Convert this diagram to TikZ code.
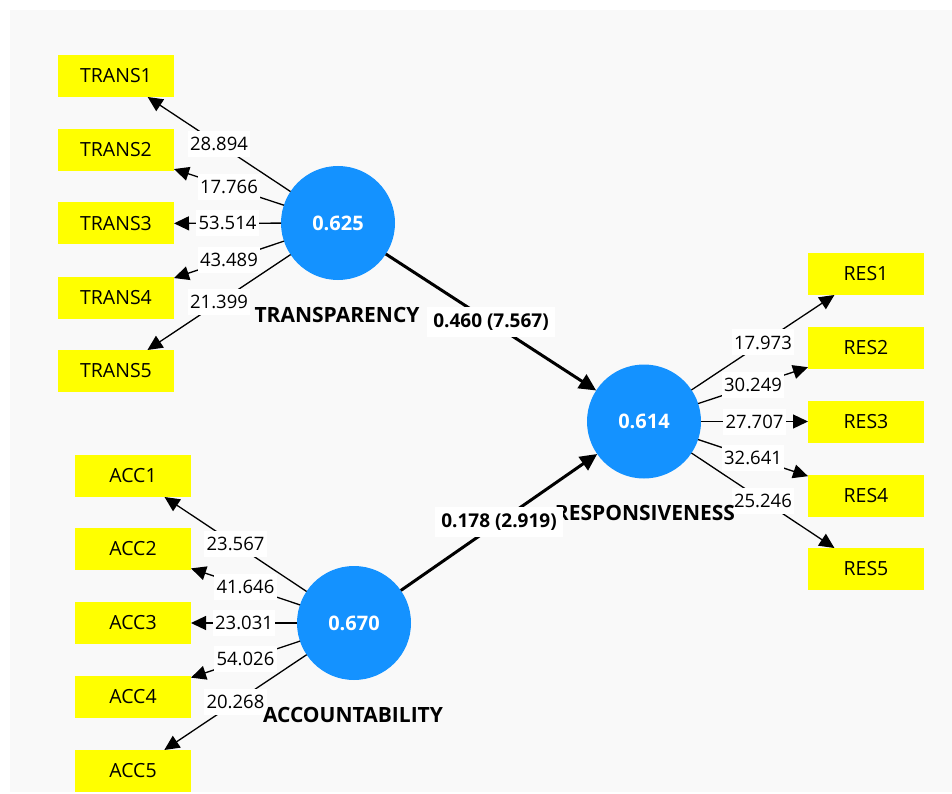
\documentclass[tikz,border=0pt]{standalone}
\usepackage{fontspec}
\setmainfont{Open Sans}
\usetikzlibrary{arrows.meta}
\definecolor{bgc}{RGB}{249,249,249}
\definecolor{lvblue}{RGB}{20,146,255}
\definecolor{indyellow}{RGB}{255,255,0}
\begin{document}
\begin{tikzpicture}[x=1pt,y=-1pt,
  ind/.style={fill=indyellow, minimum width=116pt, minimum height=42pt, inner sep=0pt, outer sep=0pt, font=\fontsize{19.5}{21}\selectfont},
  lv/.style={circle, fill=lvblue, minimum size=114pt, inner sep=0pt, outer sep=0pt, text=white, font=\bfseries\fontsize{20}{22}\selectfont},
  lvname/.style={inner sep=0pt, font=\bfseries\fontsize{21}{23}\selectfont},
  load/.style={line width=1.3pt, -{Triangle[length=15pt,width=14pt]}},
  struct/.style={line width=3pt, -{Triangle[length=17pt,width=16pt]}},
  lbl/.style={fill=white, inner xsep=2.5pt, inner ysep=0pt, minimum height=26pt, font=\fontsize{18.5}{20}\selectfont},
  plbl/.style={fill=white, inner xsep=6pt, inner ysep=0pt, minimum height=30pt, font=\bfseries\fontsize{19}{21}\selectfont}]
\useasboundingbox (0,0) rectangle (952,794);
\fill[white] (0,0) rectangle (952,794);
\fill[bgc] (10,10) rectangle (952,792);
% indicators
\foreach \i/\y in {1/76,2/150,3/223.5,4/297.5,5/371} \node[ind] (T\i) at (116,\y) {TRANS\i};
\foreach \i/\y in {1/476,2/549,3/623,4/697,5/771} \node[ind] (A\i) at (133,\y) {ACC\i};
\foreach \i/\y in {1/274,2/348,3/421.5,4/495.5,5/569} \node[ind] (R\i) at (866,\y) {RES\i};
% latent variables
\node[lv] (T) at (338,223) {0.625};
\node[lv] (A) at (354,623) {0.670};
\node[lv] (R) at (644,421.5) {0.614};
% loadings
\foreach \i in {1,...,5} {
  \draw[load] (T) -- coordinate (tl\i) (T\i);
  \draw[load] (A) -- coordinate (al\i) (A\i);
  \draw[load] (R) -- coordinate (rl\i) (R\i);
}
\foreach \i/\v in {1/28.894,2/17.766,3/53.514,4/43.489,5/21.399} \node[lbl] at (tl\i) {\v};
\foreach \i/\v in {1/23.567,2/41.646,3/23.031,4/54.026,5/20.268} \node[lbl] at (al\i) {\v};
\foreach \i/\v in {1/17.973,2/30.249,3/27.707,4/32.641,5/25.246} \node[lbl] at (rl\i) {\v};
% names
\node[lvname] (Tn) at (337,315) {TRANSPARENCY};
\node[lvname] (An) at (353,715) {ACCOUNTABILITY};
\node[lvname] (Rn) at (645,513) {RESPONSIVENESS};
% structural paths
\draw[struct] (T) -- node[plbl] {0.460 (7.567)} (R);
\draw[struct] (A) -- node[plbl] {0.178 (2.919)} (R);
\end{tikzpicture}
\end{document}
